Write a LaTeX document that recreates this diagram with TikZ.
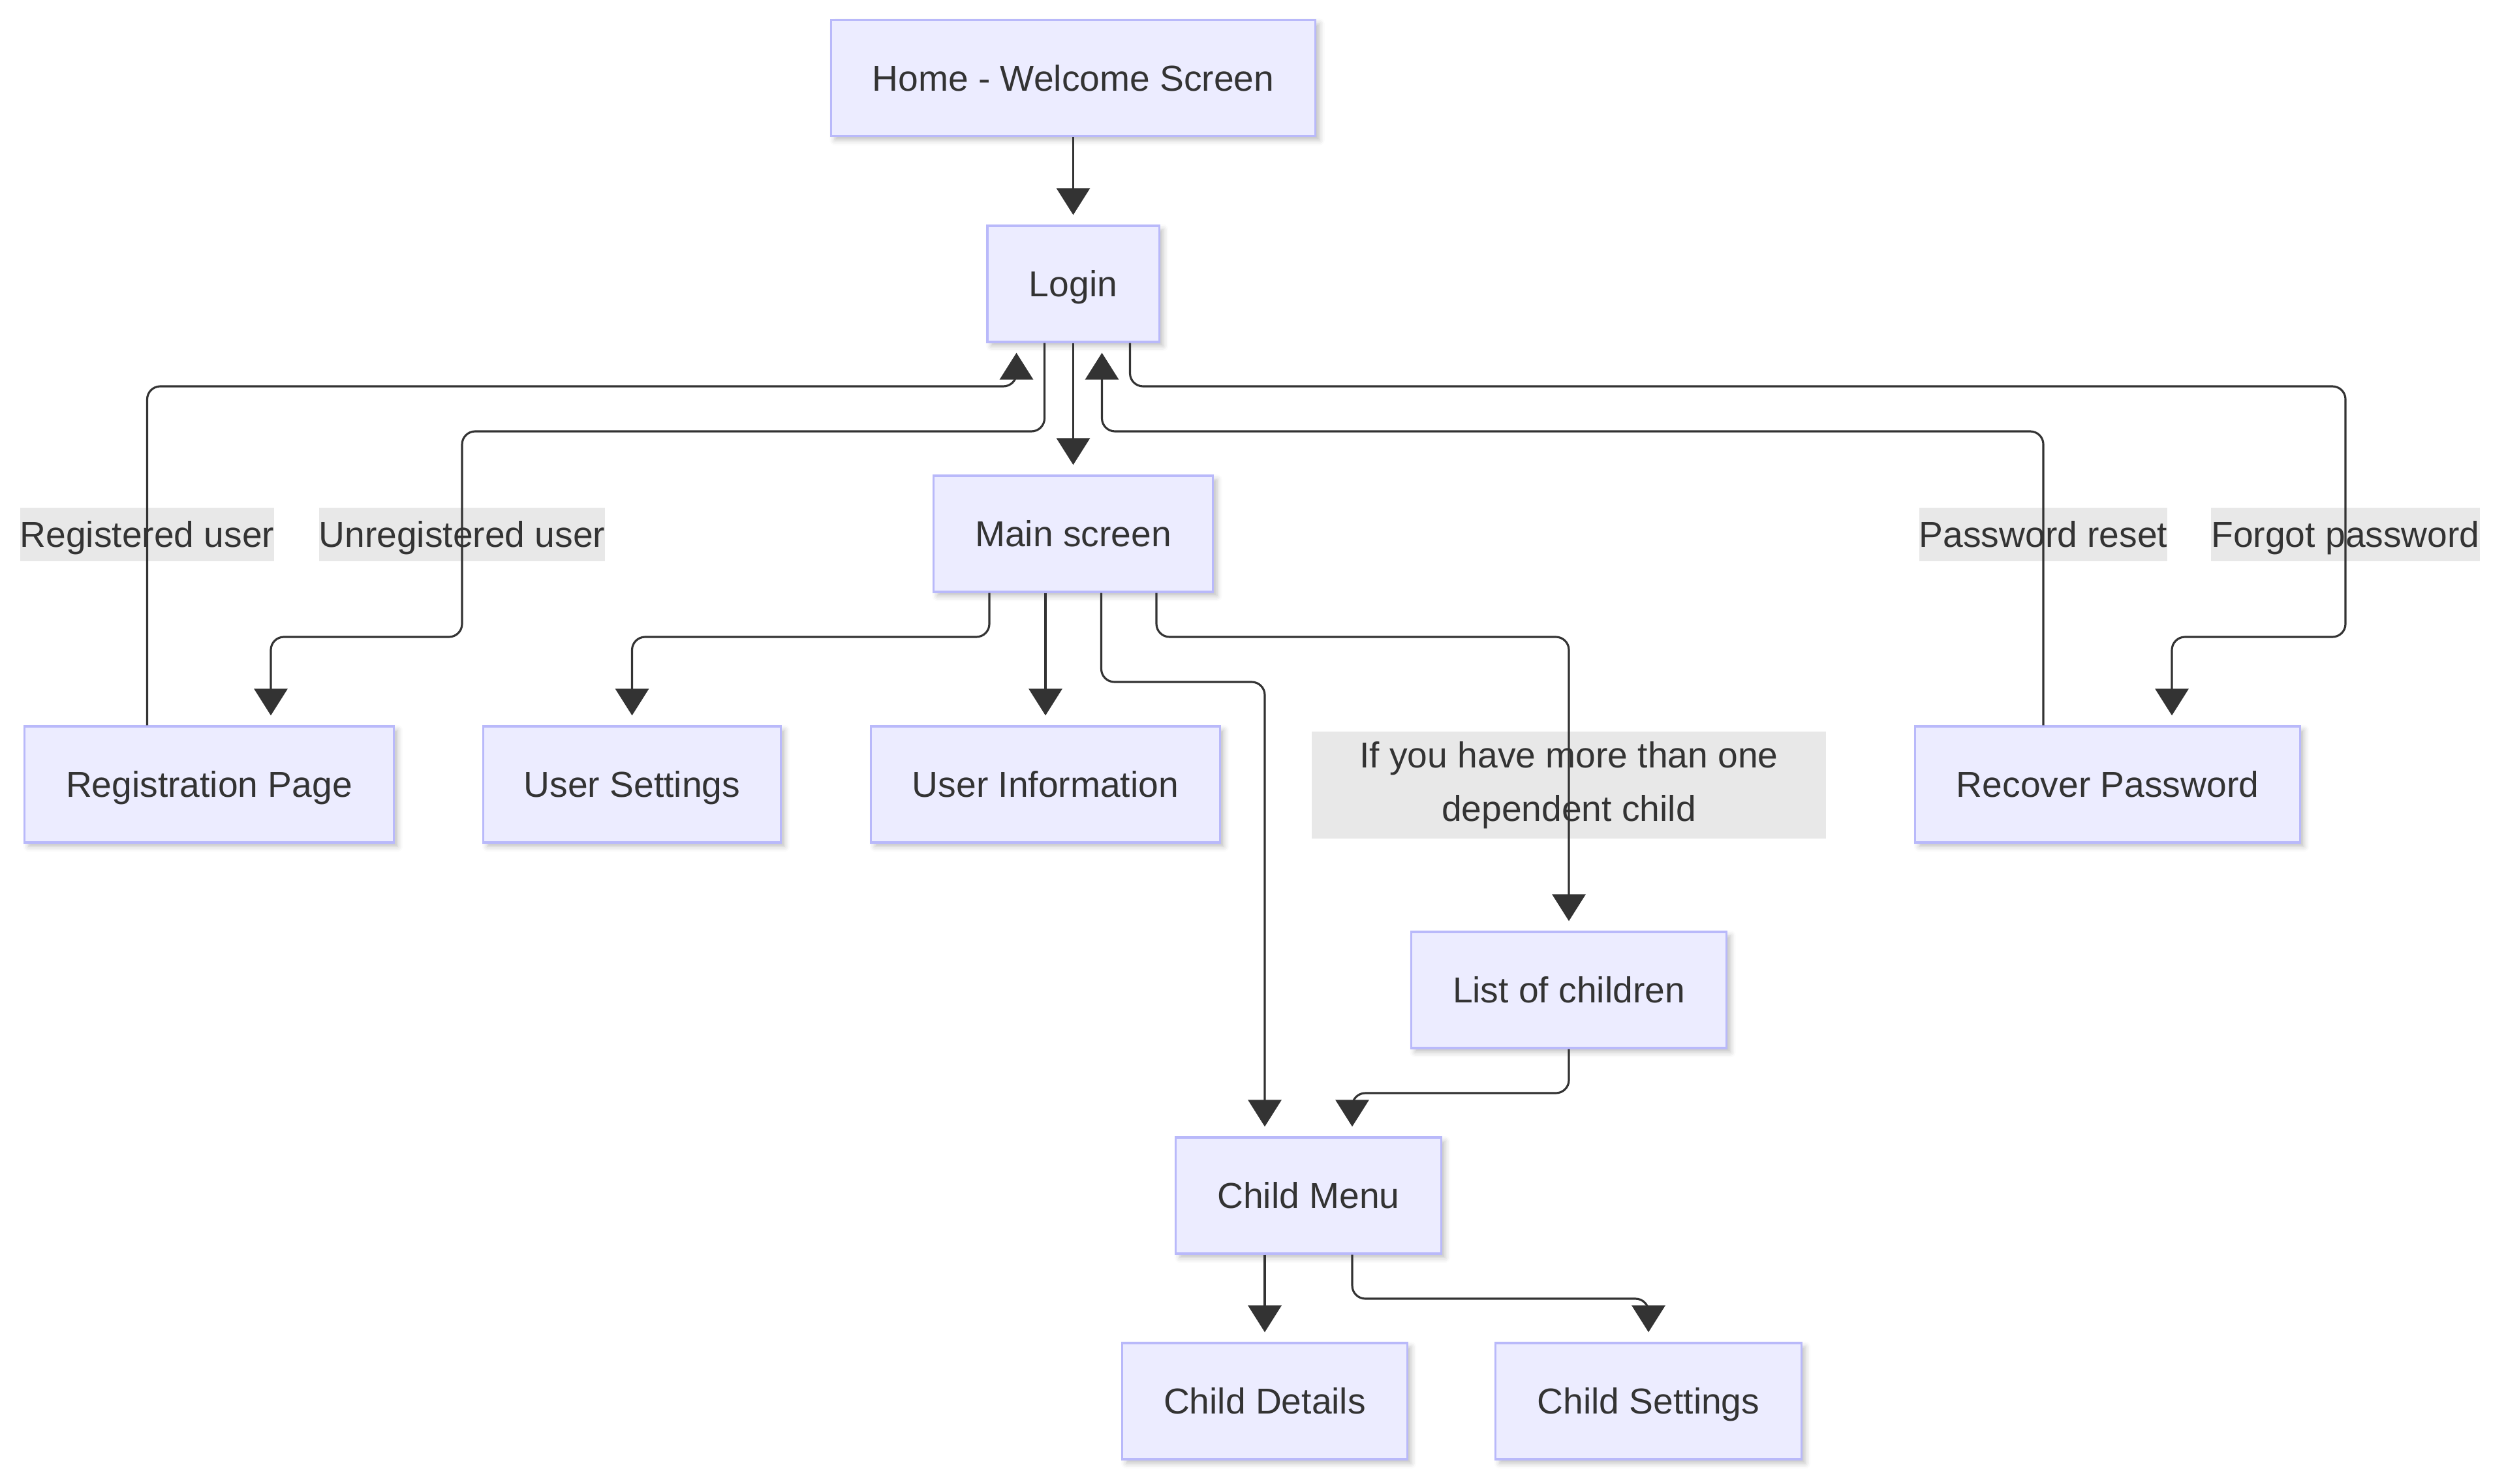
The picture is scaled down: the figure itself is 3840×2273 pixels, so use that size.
\documentclass[tikz,border=0pt]{standalone}
\usepackage{fontspec}
\setmainfont{Liberation Sans}
\usetikzlibrary{arrows.meta,calc,shadows.blur}

\definecolor{boxfill}{HTML}{ECECFF}
\definecolor{boxline}{HTML}{B9B9FA}
\definecolor{edgeline}{HTML}{333333}
\definecolor{labelfill}{HTML}{E8E8E8}

\begin{document}
\begin{tikzpicture}[
	x=0.01cm, y=-0.01cm,
	font=\fontsize{15.7pt}{23.3pt}\selectfont,
	text=edgeline,
	screen/.style={draw=boxline, fill=boxfill, line width=0.9pt, inner sep=0pt,
		minimum height=1.78cm, text height=11.3pt, text depth=0pt,
		blur shadow={shadow xshift=0.06cm, shadow yshift=-0.06cm, shadow blur radius=0.08cm, shadow opacity=25}},
	cond/.style={fill=labelfill, inner sep=0pt, minimum height=0.82cm},
	condline/.style={cond, text height=11.3pt, text depth=0pt},
	flow/.style={draw=edgeline, line width=0.9pt, rounded corners=0.2cm,
		shorten >=0.15cm, -{Triangle[length=0.41cm, width=0.51cm]}},
]

\path [use as bounding box] (0,0) rectangle (3840,2273);

% ROWS OF THE BENDS
\coordinate (rowA) at (0,592);
\coordinate (rowB) at (0,661);
\coordinate (rowC) at (0,976);
\coordinate (rowD) at (0,1045);
\coordinate (rowE) at (0,1675);
\coordinate (rowF) at (0,1990);

% SCREENS
% #1 : name
% #2 : x
% #3 : y
% #4 : width
% #5 : text
\newcommand{\screenbox}[5]{%
	\node [screen, minimum width=#4] (#1) at (#2,#3) {#5}%
}
\screenbox{home}{1644.5}{119.5}{7.42cm}{Home - Welcome Screen};
\screenbox{login}{1644.5}{435}{2.63cm}{Login};
\screenbox{mainscreen}{1644.5}{818}{4.28cm}{Main screen};
\screenbox{regpage}{320.5}{1202}{5.65cm}{Registration Page};
\screenbox{usersettings}{968.5}{1202}{4.55cm}{User Settings};
\screenbox{userinfo}{1602}{1202}{5.34cm}{User Information};
\screenbox{recover}{3229.5}{1202}{5.89cm}{Recover Password};
\screenbox{children}{2404}{1517}{4.83cm}{List of children};
\screenbox{childmenu}{2005}{1832}{4.06cm}{Child Menu};
\screenbox{childdetails}{1938}{2147}{4.36cm}{Child Details};
\screenbox{childsettings}{2526}{2147}{4.68cm}{Child Settings};

% PORTS ON THE CHILD MENU
\coordinate (cmtopL) at ($(childmenu.north)+(-67,0)$);
\coordinate (cmtopR) at ($(childmenu.north)+(67,0)$);

% CONDITIONS
\node [condline] (lblreg) at (225.5,819) {Registered user};
\node [condline] (lblunreg) at (708,819) {Unregistered user};
\node [condline] (lblreset) at (3131,819) {Password reset};
\node [condline] (lblforgot) at (3594,819) {Forgot password};
\node [cond, align=center, minimum width=7.87cm, minimum height=1.64cm] (lblmore)
	at (2404,1203) {If you have more than one\\dependent child};

% EDGES
\draw [flow] (home) -- (login);
\draw [flow] (login) -- (mainscreen);

% login <-> registration
\draw [flow] ($(login.south)+(-44,0)$) |- (lblunreg |- rowB)
	-- (lblunreg |- rowC) -| ($(regpage.north)+(94.5,0)$);
\draw [flow] ($(regpage.north)+(-95,0)$) -- (lblreg |- rowA)
	-| ($(login.south)+(-87,0)$);

% login <-> recover
\draw [flow] ($(recover.north)+(-98.5,0)$) -- (lblreset |- rowB)
	-| ($(login.south)+(44,0)$);
\draw [flow] ($(login.south)+(87,0)$) |- (lblforgot |- rowA)
	-- (lblforgot |- rowC) -| ($(recover.north)+(98.5,0)$);

% main screen
\draw [flow] ($(mainscreen.south)+(-128.5,0)$) |- (usersettings |- rowC) -- (usersettings.north);
\draw [flow] ($(mainscreen.south)+(-42.5,0)$) -- (userinfo.north);
\draw [flow] ($(mainscreen.south)+(43,0)$) |- (cmtopL |- rowD) -- (cmtopL);
\draw [flow] ($(mainscreen.south)+(127.5,0)$) |- (children |- rowC) -- (children.north);

% children
\draw [flow] (children.south) |- (cmtopR |- rowE) -- (cmtopR);
\draw [flow] ($(childmenu.south)+(-67,0)$) -- (childdetails.north);
\draw [flow] ($(childmenu.south)+(67,0)$) |- (childsettings |- rowF) -- (childsettings.north);

\end{tikzpicture}
\end{document}
